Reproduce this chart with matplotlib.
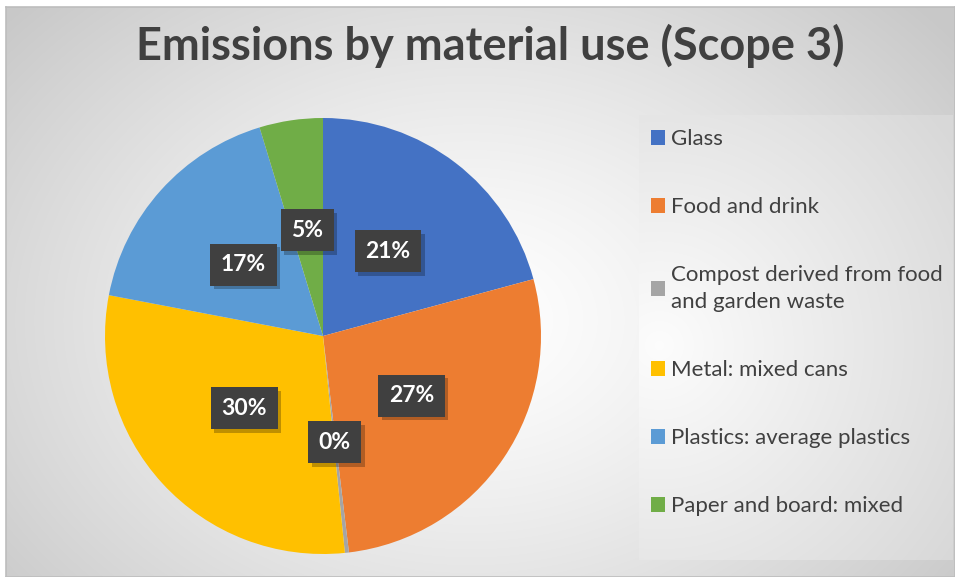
import numpy as np
import matplotlib.pyplot as plt
from matplotlib.patheffects import SimplePatchShadow, Normal

# chart data (percent of scope 3 emissions)
materials = ["Glass", "Food and drink", "Compost derived from food\nand garden waste",
             "Metal: mixed cans", "Plastics: average plastics", "Paper and board: mixed"]
shares = [20.8, 27.3, 0.3, 29.6, 17.3, 4.7]
colors = ["#4472C4", "#ED7D31", "#A5A5A5", "#FFC000", "#5B9BD5", "#70AD47"]
title = "Emissions by material use (Scope 3)"

W, H = 955, 577
plt.rcParams['font.family'] = ['Lato', 'DejaVu Sans']

fig = plt.figure(figsize=(W / 100, H / 100), dpi=100)
fig.patch.set_facecolor("white")

# radial grey background like the Excel chart area
bx0, by0 = 6, 7
bg = fig.add_axes([bx0 / W, 0, 1 - bx0 / W, 1 - by0 / H], zorder=-10)
yy, xx = np.mgrid[by0:H, bx0:W]
d = np.sqrt(((xx - 470) / 560.0) ** 2 + ((yy - 320) / 420.0) ** 2)
shade = np.clip(1.0 - 0.19 * d ** 1.3, 0.785, 1.0)
bg.imshow(np.dstack([shade] * 3), aspect="auto", extent=[0, 1, 0, 1])
bg.set_xticks([])
bg.set_yticks([])
for s in bg.spines.values():
    s.set_color("#bdbdbd")
    s.set_linewidth(1.2)

# legend panel gradient
lx0, ly0, lx1, ly1 = 639, 115, 952, 560
lg = fig.add_axes([lx0 / W, 1 - ly1 / H, (lx1 - lx0) / W, (ly1 - ly0) / H], zorder=-5)
gy, gx = np.mgrid[0:ly1 - ly0, 0:lx1 - lx0]
gd = np.sqrt(((gx - 20) / 330.0) ** 2 + ((gy - 230) / 330.0) ** 2)
gshade = np.clip(0.99 - 0.13 * gd, 0.85, 1.0)
lg.imshow(np.dstack([gshade] * 3), aspect="auto", extent=[0, 1, 0, 1])
lg.axis("off")

# pie
cx, cy, r = 323, 336, 218
ax = fig.add_axes([(cx - r) / W, 1 - (cy + r) / H, 2 * r / W, 2 * r / H])
wedges, texts, autotexts = ax.pie(
    shares, colors=colors, startangle=90, counterclock=False,
    autopct=lambda p: f"{p:.0f}%", pctdistance=0.49,
    wedgeprops=dict(linewidth=0),
    textprops=dict(color="white", fontsize=16.5, fontweight="bold"))
ax.set_xlim(-1, 1)
ax.set_ylim(-1, 1)
ax.set_aspect("auto")

for t in autotexts:
    t.set_bbox(dict(boxstyle="square,pad=0.46", fc="#404040", ec="none"))
    t.get_bbox_patch().set_path_effects(
        [SimplePatchShadow(offset=(2.5, -2.5), shadow_rgbFace="black", alpha=0.25), Normal()])
    t.set_zorder(3)

# legend
leg = fig.legend(wedges, materials, loc="upper left",
                 bbox_to_anchor=(631 / W, 1 - 109 / H),
                 frameon=False, fontsize=16, labelcolor="#404040",
                 handlelength=0.65, handleheight=0.65, handletextpad=0.25,
                 labelspacing=2.16)
for t in leg.get_texts():
    t.set_linespacing(1.45)

fig.text(490 / W, 1 - 46 / H, title, ha="center", va="center",
         fontsize=32.5, fontweight="bold", color="#404040")

fig.savefig("out.png", dpi=100)
